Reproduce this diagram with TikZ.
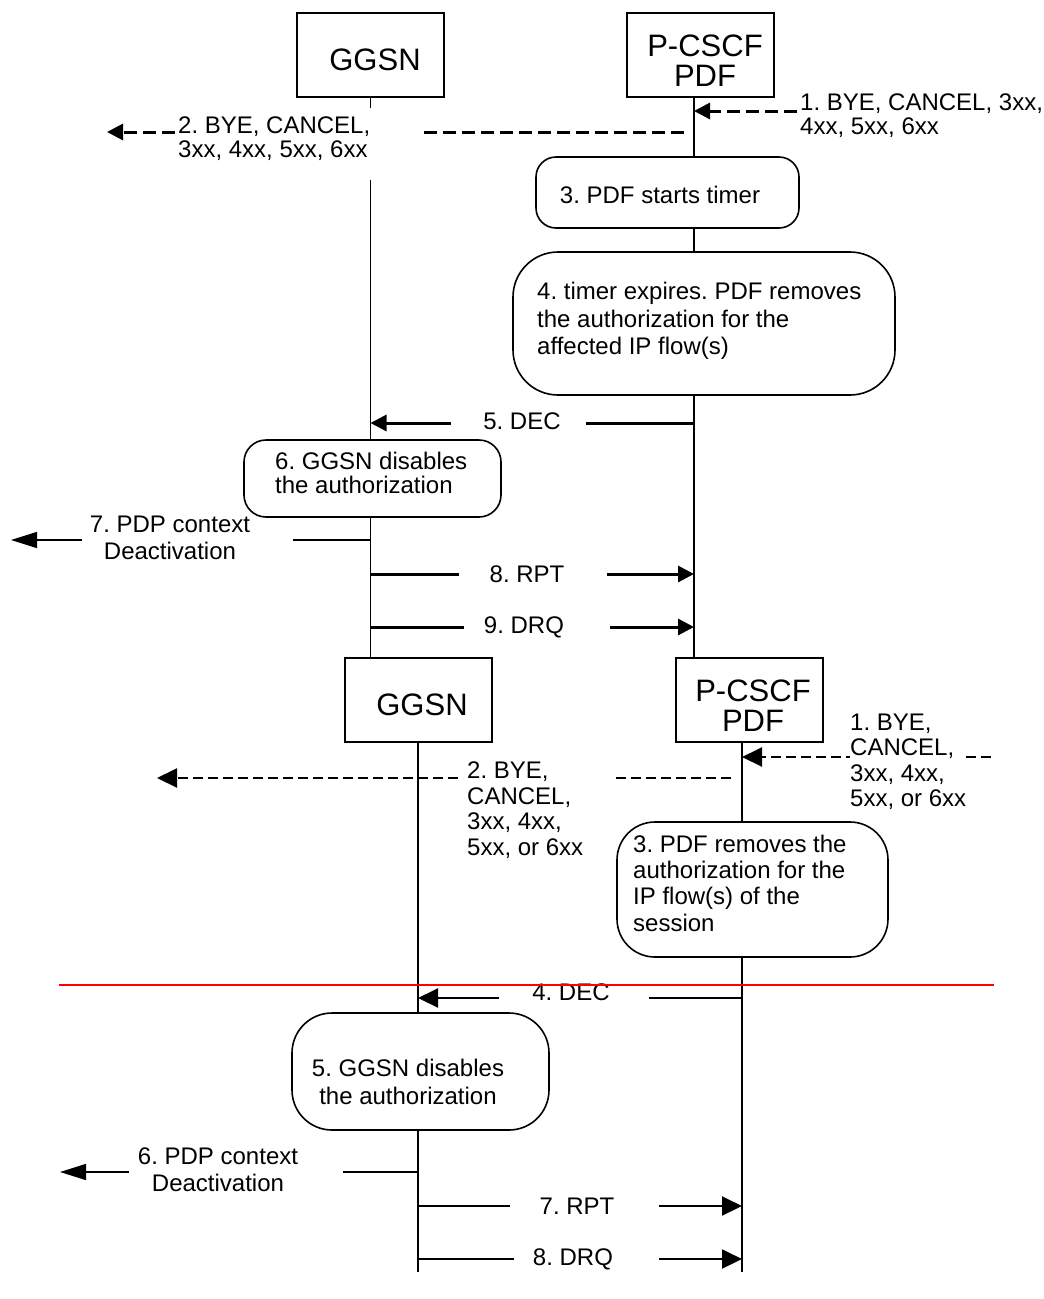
\documentclass[tikz,border=0pt]{standalone}
\usepackage{fontspec}
\setmainfont{Liberation Sans}
\usetikzlibrary{arrows.meta}
\frenchspacing
\begin{document}
\frenchspacing
\begin{tikzpicture}[x=1pt,y=-1pt,
  ent/.style={draw,line width=2pt,minimum width=147pt,minimum height=84pt,inner sep=0pt},
  enttxt/.style={inner sep=0pt,align=center,font=\fontsize{31}{30}\selectfont},
  rbox/.style={draw,line width=1.6pt,inner sep=0pt},
  life/.style={line width=1.3pt},
  txt/.style={inner sep=0pt,font=\fontsize{24}{27}\selectfont},
  mA/.style={line width=3pt},
  mB/.style={line width=2pt},
  mthin/.style={line width=1.5pt},
  dshA/.style={line width=3pt,dash pattern=on 13pt off 6pt},
  dshB/.style={line width=2pt,dash pattern=on 10pt off 5pt},
  tipA/.style={-{Triangle[length=16pt,width=16pt]}},
  tipB/.style={-{Triangle[length=20pt,width=19pt]}},
  tipL/.style={-{Triangle[length=26pt,width=16pt]}},
]
\useasboundingbox[fill=white] (0,0) rectangle (1044,1299);

% ---------------- upper diagram ----------------
\node[ent] (g1) at (370.5,55) {};
\node[enttxt] (g1t) at (375,60) {GGSN};
\node[ent] (p1) at (700.5,55) {};
\node[enttxt] (p1t) at (705,61) {P-CSCF\\PDF};

\node[rbox,rounded corners=20pt,minimum width=263pt,minimum height=71pt] (b3) at (667.5,192.5) {};
\node[txt] (b3t) at (660,195) {3. PDF starts timer};
\node[rbox,rounded corners=45pt,minimum width=382pt,minimum height=143pt] (b4) at (704,323.5) {};
\node[txt,anchor=west,align=left,font=\fontsize{24}{27.5}\selectfont] (b4t) at (537,321) {4. timer expires. PDF removes\\the authorization for the\\affected IP flow(s)};
\node[rbox,rounded corners=22pt,minimum width=257pt,minimum height=77pt] (b6) at (372.5,478.5) {};
\node[txt,anchor=west,align=left,font=\fontsize{24}{24}\selectfont] (b6t) at (275,473) {6. GGSN disables\\the authorization};

\coordinate (P1) at (694,97);
\draw[life] (g1.south) -- ++(0,10);
\draw[life] (370.5,180) coordinate (g1r) -- (g1r |- b6.north);
\draw[life] (g1r |- b6.south) -- (g1r |- 0,658) coordinate (g1e);
\draw[life] (P1) -- (P1 |- b3.north);
\draw[life] (P1 |- b3.south) -- (P1 |- b4.north);
\draw[life] (P1 |- b4.south) -- (P1 |- 0,658) coordinate (p1e);

% 1
\coordinate (m1a) at (797,111);
\draw[dshA,tipA] (m1a) -- (P1 |- m1a);
\node[txt,anchor=west,align=left,font=\fontsize{24}{24}\selectfont] (m1t) at (800,116) {1. BYE, CANCEL, 3xx,\\4xx, 5xx, 6xx};
% 2
\coordinate (m2a) at (684,132);
\coordinate (m2b) at (419,132);
\coordinate (m2c) at (175,132);
\coordinate (m2d) at (107,132);
\draw[dshA] (m2a) -- (m2b);
\draw[dshA,tipA] (m2c) -- (m2d);
\node[txt,anchor=west,align=left,font=\fontsize{24}{24}\selectfont] (m2t) at (178,139) {2. BYE, CANCEL,\\3xx, 4xx, 5xx, 6xx};
% 5
\coordinate (m5a) at (586,423);
\coordinate (m5b) at (451,423);
\draw[mA] (P1 |- m5a) -- (m5a);
\draw[mA,tipA] (m5b) -- (g1r |- m5b);
\node[txt] (m5t) at (522,421) {5. DEC};
% 7
\coordinate (m7a) at (293,517);
\coordinate (m7b) at (293,540);
\coordinate (m7c) at (82,540);
\coordinate (m7d) at (11,540);
\draw[mthin] (m7a) -- (g1r |- m7a);
\draw[mthin] (m7b) -- (g1r |- m7b);
\draw[mthin,tipL] (m7c) -- (m7d);
\node[txt,align=center] (m7t) at (170,538) {7. PDP context\\Deactivation};
% 8
\coordinate (m8a) at (459,574);
\coordinate (m8b) at (607,574);
\draw[mA] (g1r |- m8a) -- (m8a);
\draw[mA,tipA] (m8b) -- (P1 |- m8b);
\node[txt] (m8t) at (527,574) {8. RPT};
% 9
\coordinate (m9a) at (464,627);
\coordinate (m9b) at (610,627);
\draw[mA] (g1r |- m9a) -- (m9a);
\draw[mA,tipA] (m9b) -- (P1 |- m9b);
\node[txt] (m9t) at (524,627) {9. DRQ};

% ---------------- lower diagram ----------------
\node[ent] (g2) at (418,700) {};
\node[enttxt] (g2t) at (422,705) {GGSN};
\node[ent] (p2) at (749.5,700) {};
\node[enttxt] (p2t) at (753,706) {P-CSCF\\PDF};

\node[rbox,rounded corners=38pt,minimum width=271pt,minimum height=135pt] (c3) at (752.5,889.5) {};
\node[txt,anchor=west,align=left,font=\fontsize{24}{26.3}\selectfont] (c3t) at (633,883) {3. PDF removes the\\authorization for the\\IP flow(s) of the\\session};
\node[rbox,rounded corners=40pt,minimum width=257pt,minimum height=117pt] (c5) at (420.5,1071.5) {};
\node[txt,align=center,font=\fontsize{24}{28}\selectfont] (c5t) at (408,1082) {5. GGSN disables\\the authorization};

\coordinate (P2) at (742,742);
\draw[life] (g2.south) -- (g2.south |- c5.north);
\draw[life] (g2.south |- c5.south) -- (g2.south |- 0,1272) coordinate (g2e);
\draw[life] (P2) -- (P2 |- c3.north);
\draw[life] (P2 |- c3.south) -- (P2 |- 0,1272) coordinate (p2e);

% 1
\coordinate (n1a) at (991,757);
\draw[dshB,tipB] (n1a) -- (P2 |- n1a);
\node[txt,anchor=west,align=left,fill=white,font=\fontsize{24}{25.5}\selectfont] (n1t) at (850,762) {1. BYE,\\CANCEL,\\3xx, 4xx,\\5xx, or 6xx};
% 2
\coordinate (n2a) at (731,778);
\coordinate (n2b) at (612,778);
\coordinate (n2c) at (458,778);
\coordinate (n2d) at (157,778);
\draw[dshB] (n2a) -- (n2b);
\draw[dshB,tipB] (n2c) -- (n2d);
\node[txt,anchor=west,align=left,font=\fontsize{24}{25.5}\selectfont] (n2t) at (467,810) {2. BYE,\\CANCEL,\\3xx, 4xx,\\5xx, or 6xx};
% 4
\coordinate (n4a) at (649,998);
\coordinate (n4b) at (499,998);
\draw[mB] (P2 |- n4a) -- (n4a);
\draw[mB,tipB] (n4b) -- (g2.south |- n4b);
\node[txt] (n4t) at (571,992) {4. DEC};
% 6
\coordinate (n6a) at (343,1172);
\coordinate (n6c) at (129,1172);
\coordinate (n6d) at (60,1172);
\draw[mB] (n6a) -- (g2.south |- n6a);
\draw[mthin,tipL] (n6c) -- (n6d);
\node[txt,align=center] (n6t) at (218,1170) {6. PDP context\\Deactivation};
% 7
\coordinate (n7a) at (510,1206);
\coordinate (n7b) at (659,1206);
\draw[mB] (g2.south |- n7a) -- (n7a);
\draw[mB,tipB] (n7b) -- (P2 |- n7b);
\node[txt] (n7t) at (577,1206) {7. RPT};
% 8
\coordinate (n8a) at (514,1259);
\coordinate (n8b) at (659,1259);
\draw[mB] (g2.south |- n8a) -- (n8a);
\draw[mB,tipB] (n8b) -- (P2 |- n8b);
\node[txt] (n8t) at (573,1259) {8. DRQ};

% red line
\coordinate (r1) at (59,985);
\coordinate (r2) at (994,985);
\draw[red,line width=2pt] (r1) -- (r2);
\end{tikzpicture}
\end{document}
